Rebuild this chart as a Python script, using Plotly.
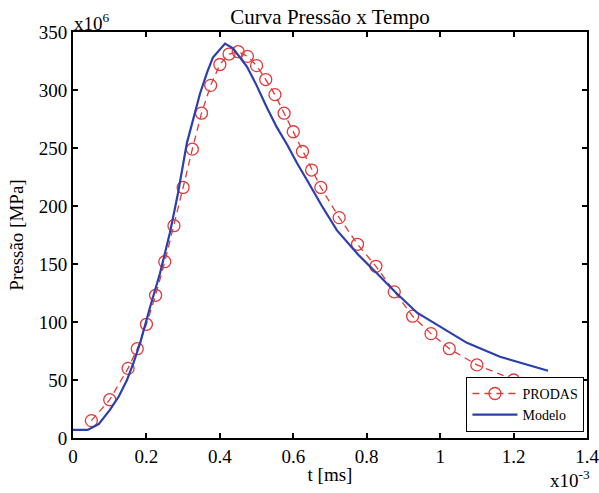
import plotly.graph_objects as go

# PRODAS data (t in x10^-3 ms, pressure in x10^6)
prodas_t = [0.05, 0.10, 0.15, 0.175, 0.20, 0.225, 0.25, 0.275, 0.30, 0.325, 0.35, 0.375,
            0.40, 0.425, 0.45, 0.475, 0.50, 0.525, 0.55, 0.575, 0.60, 0.625, 0.65, 0.675,
            0.725, 0.775, 0.825, 0.875, 0.925, 0.975, 1.025, 1.10, 1.20, 1.25]
prodas_p = [15, 33, 60, 77, 98, 123, 152, 183, 216, 249, 280, 304,
            322, 331, 333, 329, 321, 309, 296, 280, 264, 247, 231, 216,
            190, 167, 148, 126, 105, 90, 77, 63, 50, 44]

# Modelo data
modelo_t = [0.0, 0.04, 0.07, 0.10, 0.125, 0.147, 0.165, 0.183, 0.21, 0.237, 0.264, 0.286,
            0.31, 0.33, 0.346, 0.365, 0.381, 0.414, 0.436, 0.474, 0.50, 0.528, 0.555, 0.583,
            0.61, 0.638, 0.678, 0.719, 0.777, 0.837, 0.877, 0.937, 1.0, 1.073, 1.163, 1.294]
modelo_p = [7, 7, 12, 24, 36, 50, 65, 82, 113, 142, 177, 211,
            254, 278, 297, 315, 328, 340, 336, 320, 304, 285, 268, 253,
            237, 222, 200, 179, 158, 139, 126, 108, 96, 82, 70, 58]

font = "Liberation Serif"

fig = go.Figure()
fig.add_trace(go.Scatter(x=prodas_t, y=prodas_p, name="PRODAS", mode="lines+markers",
                         line=dict(color="#e23a3a", width=1.3, dash="7px,5px"),
                         marker=dict(symbol="circle-open", size=12, color="#e23a3a",
                                     line=dict(width=1.3))))
fig.add_trace(go.Scatter(x=modelo_t, y=modelo_p, name="Modelo", mode="lines",
                         line=dict(color="#2b3fae", width=2.2)))

axis = dict(showline=True, linecolor="black", linewidth=2, mirror="ticks",
            ticks="inside", ticklen=5, tickwidth=1.5, tickcolor="black",
            showgrid=False, zeroline=False, automargin=False,
            ticklabeloverflow="allow", tickfont=dict(size=19, color="black"))

fig.update_layout(
    width=599, height=493,
    margin=dict(l=73, r=12, t=32, b=55),
    paper_bgcolor="white", plot_bgcolor="white",
    font=dict(family=font, size=19, color="black"),
    title=dict(text="Curva Pressão x Tempo", x=0.551, xanchor="center", y=0.966,
               yanchor="middle", font=dict(size=21)),
    xaxis=dict(axis, range=[0, 1.4], tickvals=[0, 0.2, 0.4, 0.6, 0.8, 1.0, 1.2, 1.4],
               ticktext=["0", "0.2", "0.4", "0.6", "0.8", "1", "1.2", "1.4"],
               title=dict(text="t [ms]", standoff=2, font=dict(size=19))),
    yaxis=dict(axis, range=[0, 350], dtick=50,
               title=dict(text="Pressão [MPa]", standoff=10, font=dict(size=19))),
    legend=dict(x=0.995, xanchor="right", y=0.015, yanchor="bottom",
                bgcolor="white", bordercolor="black", borderwidth=1,
                font=dict(size=14), tracegroupgap=0, itemwidth=45),
    showlegend=True,
)

fig.add_annotation(text="x10<sup>6</sup>", xref="paper", yref="paper", x=0, y=1.0,
                   xanchor="left", yanchor="bottom", showarrow=False,
                   font=dict(size=19), yshift=-4, xshift=-1)
fig.add_annotation(text="x10<sup>-3</sup>", xref="paper", yref="paper", x=1.0, y=0,
                   xanchor="right", yanchor="top", showarrow=False,
                   font=dict(size=19), yshift=-27, xshift=5)

fig.write_html("out.html", config={"displayModeBar": False},
               post_script="document.body.style.margin='0';")
